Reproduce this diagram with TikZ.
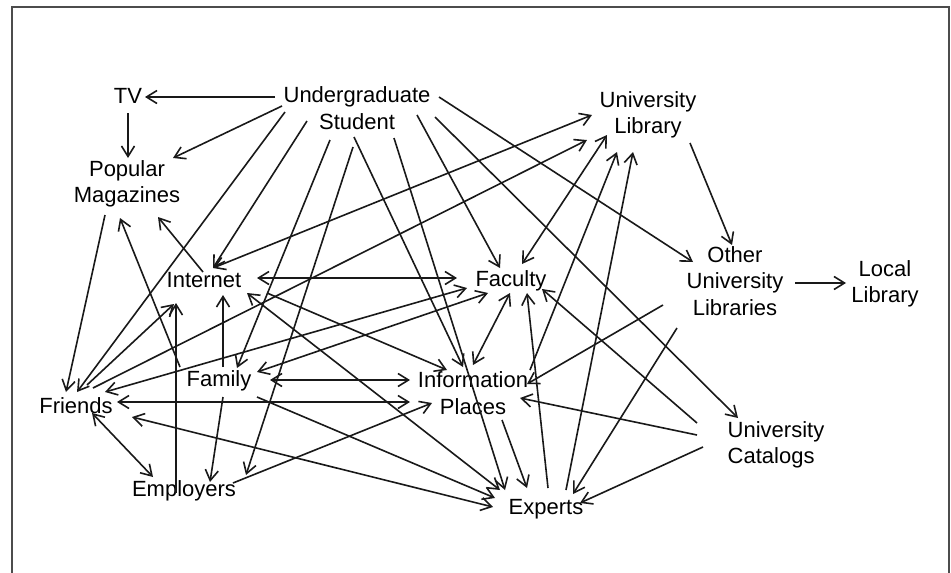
\documentclass[tikz,border=0pt]{standalone}
\usepackage{fontspec}
\setmainfont{Liberation Sans}
\usetikzlibrary{arrows.meta,calc}
\tikzset{
  lbl/.style={inner sep=0pt, align=center, font=\fontsize{22}{26.5}\selectfont},
  lblleft/.style={lbl, align=left},
  con/.style={line width=1.6pt, draw=black!90},
  >={Straight Barb[length=10.5pt,width=13pt,line width=1.6pt]},
  frame/.style={line width=2pt, draw=black!70}
}
\begin{document}
\begin{tikzpicture}[x=1pt,y=-1pt]
\useasboundingbox (0,0) rectangle (951,573);
\fill[white] (0,0) rectangle (951,573);
\draw[frame] (12,600) -- (12,7) -- (949,7) -- (949,600);

\node[lbl] (tv)   at (128,96)  {TV};
\node[lbl] (us)   at (357,108) {Undergraduate\\Student};
\node[lbl] (pm)   at (127,184) {Popular\\Magazines};
\node[lbl] (ul)   at (648,115) {University\\Library};
\node[lbl] (inet) at (204,280) {Internet};
\node[lbl] (fac)  at (511,281) {Faculty};
\node[lbl] (oul)  at (735,281) {Other\\University\\Libraries};
\node[lbl] (ll)   at (885,284) {Local\\Library};
\node[lbl] (fam)  at (219,381) {Family};
\node[lbl] (ip)   at (473,393) {Information\\Places};
\node[lbl] (fr)   at (76,406)  {Friends};
\node[lblleft] (uc) at (776,445) {University\\Catalogs};
\node[lbl] (emp)  at (184,491) {Employers};
\node[lbl] (exp)  at (546,509) {Experts};

% from Undergraduate Student
\draw[con,->] ($(us)+(-82,-11)$) -- ($(tv)+(17,1)$);
\draw[con,->] ($(tv)+(0,17)$) -- ($(pm)+(1,-26)$);
\draw[con,->] ($(us)+(-75,-2)$) -- ($(pm)+(46,-26)$);
\draw[con,->] ($(us)+(-72,4)$) -- ($(fr)+(1,-14)$);
\draw[con,->] ($(us)+(-50,13)$) -- ($(inet)+(9,-12)$);
\draw[con,->] ($(us)+(-27,32)$) -- ($(fam)+(18,-13)$);
\draw[con,->] ($(us)+(-4,39)$) -- ($(emp)+(62,-16)$);
\draw[con,->] ($(us)+(-3,29)$) -- ($(ip)+(-10,-26)$);
\draw[con,->] ($(us)+(37,30)$) -- ($(exp)+(-41,-19)$);
\draw[con,->] ($(us)+(60,7)$) -- ($(fac)+(-11,-13)$);
\draw[con,->] ($(us)+(78,9)$) -- ($(uc)+(-38,-27)$);
\draw[con,->] ($(us)+(82,-11)$) -- ($(oul)+(-42,-19)$);

% University Library
\draw[con,<->] ($(inet)+(9,-12)$) -- ($(ul)+(-56,0)$);
\draw[con,->] ($(fr)+(17,-18)$) -- ($(ul)+(-61,25)$);
\draw[con,<->] ($(ul)+(-41,20)$) -- ($(fac)+(11,-17)$);
\draw[con,->] ($(ul)+(42,28)$) -- ($(oul)+(-3,-36)$);
\draw[con,->] ($(ip)+(57,-23)$) -- ($(ul)+(-31,37)$);
\draw[con,->] ($(exp)+(20,-19)$) -- ($(ul)+(-15,37)$);

% Other University Libraries
\draw[con,->] ($(oul)+(60,2)$) -- ($(ll)+(-39,-1)$);
\draw[con,->] ($(oul)+(-72,24)$) -- ($(ip)+(54,-9)$);
\draw[con,->] ($(oul)+(-58,47)$) -- ($(exp)+(27,-15)$);

% University Catalogs
\draw[con,->] ($(uc)+(-79,-22)$) -- ($(fac)+(31,8)$);
\draw[con,->] ($(uc)+(-79,-10)$) -- ($(ip)+(47,5)$);
\draw[con,->] ($(uc)+(-73,2)$) -- ($(exp)+(34,-6)$);

% Faculty, Information Places, Experts
\draw[con,->] ($(exp)+(2,-21)$) -- ($(fac)+(16,12)$);
\draw[con,->] ($(ip)+(29,27)$) -- ($(exp)+(-19,-21)$);
\draw[con,<->] ($(fac)+(-1,12)$) -- ($(ip)+(0,-28)$);
\draw[con,<->] ($(inet)+(53,-2)$) -- ($(fac)+(-54,-3)$);
\draw[con,<->] ($(fr)+(29,-14)$) -- ($(fac)+(-44,7)$);
\draw[con,<->] ($(fam)+(38,-9)$) -- ($(fac)+(-23,12)$);
\draw[con,<->] ($(fam)+(51,-1)$) -- ($(ip)+(-63,-13)$);
\draw[con,<->] ($(fr)+(41,-4)$) -- ($(ip)+(-63,9)$);

% Internet, Family, Friends, Employers, Popular Magazines
\draw[con,->] ($(fam)+(4,-14)$) -- ($(inet)+(19,15)$);
\draw[con,->] ($(emp)+(-8,2)$) -- ($(inet)+(-28,23)$);
\draw[con,->] ($(fr)+(11,-21)$) -- ($(inet)+(-30,24)$);
\draw[con,->] ($(inet)+(-1,-8)$) -- ($(pm)+(31,33)$);
\draw[con,->] ($(fam)+(-39,-14)$) -- ($(pm)+(-7,34)$);
\draw[con,->] ($(pm)+(-22,31)$) -- ($(fr)+(-10,-14)$);
\draw[con,->] ($(inet)+(63,13)$) -- ($(ip)+(-26,-23)$);
\draw[con,<->] ($(inet)+(43,13)$) -- ($(exp)+(-46,-19)$);
\draw[con,->] ($(fam)+(38,16)$) -- ($(exp)+(-51,-11)$);
\draw[con,<->] ($(fr)+(56,11)$) -- ($(exp)+(-53,-2)$);
\draw[con,<->] ($(fr)+(16,7)$) -- ($(emp)+(-31,-14)$);
\draw[con,->] ($(fam)+(4,16)$) -- ($(emp)+(26,-9)$);
\draw[con,->] ($(emp)+(49,-8)$) -- ($(ip)+(-41,10)$);
\end{tikzpicture}
\end{document}
